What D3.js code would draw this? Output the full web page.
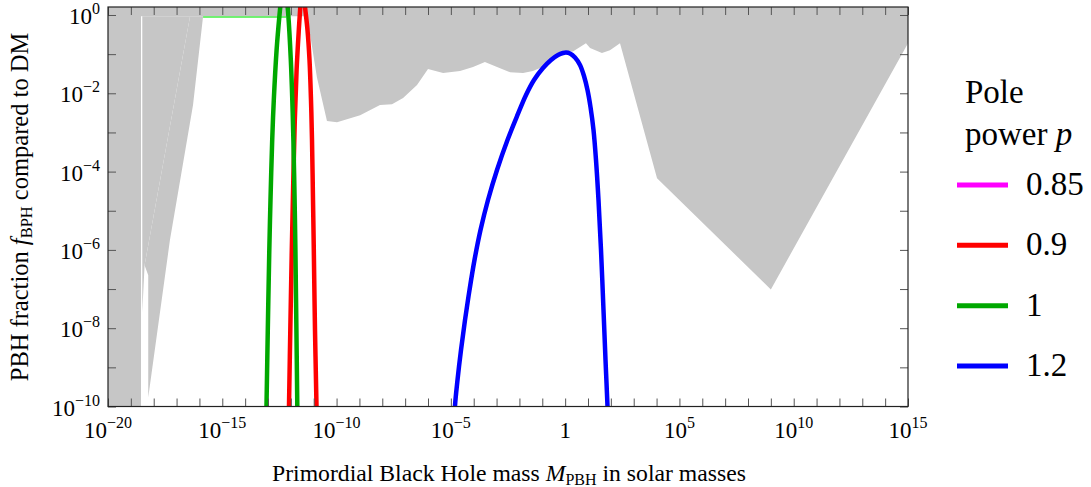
<!DOCTYPE html>
<html>
<head>
<meta charset="utf-8">
<script src="https://cdn.jsdelivr.net/npm/d3@7"></script>
<style>
  body { margin: 0; background: #fff; }
  svg text { font-family: "Liberation Serif", "Times New Roman", serif; }
</style>
</head>
<body>
<div id="chart"></div>
<script>
// Values, as [log10 M, log10 f]

// excluded regions (gray)
const regionTopBand = [[-20, -0.03], [15, -0.03], [15, 0.3], [-20, 0.3]];
const regionLeftA = [[-20, -10.5], [-18.556, -10.5], [-18.556, 0.3], [-20, 0.3]];
const regionLeftB = [[-18.50, -0.03], [-16.41, -0.03], [-18.40, -6.39], [-18.50, -7.60]];
const regionLeftC = [[-18.40, -6.39], [-16.41, -0.03], [-15.84, -0.03], [-16.28, -2.30],
                     [-17.29, -5.75], [-18.24, -9.77], [-18.24, -6.65]];
const regionMain = [[-11.3, -0.03], [-11.12, -0.64], [-10.86, -1.59], [-10.42, -2.71],
  [-9.98, -2.74], [-8.97, -2.56], [-8.10, -2.30], [-7.575, -2.28], [-7.09, -2.12],
  [-6.48, -1.79], [-6.0, -1.38], [-5.34, -1.48], [-4.6, -1.43], [-4.03, -1.33],
  [-3.51, -1.20], [-2.98, -1.33], [-2.41, -1.46], [-1.84, -1.48], [-1.41, -1.43],
  [-0.79, -1.28], [-0.09, -0.92], [0.34, -0.93], [0.91, -0.72], [1.09, -0.84],
  [1.61, -0.97], [1.96, -0.90], [2.40, -0.72], [4.02, -4.17], [9.0, -7.01],
  [15, -0.72], [15, 0.3], [-11.3, 0.3]];
const regions = [regionTopBand, regionLeftA, regionLeftB, regionLeftC, regionMain];

// thin bright green bound near f = 1
const thinBound = [[-15.84, -0.05], [-12.2, -0.05]];

// PBH fraction curves for each pole power
const curveP085 = [];
const curveP09 = [[-12.09, -10.4], [-12.081, -9.987], [-12.024, -8.046], [-11.959, -6.003],
  [-11.893, -4.215], [-11.827, -2.682], [-11.749, -1.405], [-11.652, -0.383],
  [-11.587, 0.204], [-11.512, 0.894], [-11.381, 0.204], [-11.272, -0.383],
  [-11.184, -1.149], [-11.119, -2.171], [-11.075, -3.193], [-11.031, -4.725],
  [-10.996, -6.003], [-10.944, -8.046], [-10.878, -9.987], [-10.87, -10.4]];
const curveP1 = [[-13.08, -10.4], [-13.066, -9.987], [-13.009, -8.046], [-12.943, -6.003],
  [-12.891, -4.725], [-12.816, -3.193], [-12.746, -2.171], [-12.624, -0.894],
  [-12.497, 0.0], [-12.387, 0.639], [-12.30, 1.022], [-12.212, 0.639], [-12.112, 0.0],
  [-12.002, -1.149], [-11.937, -2.171], [-11.889, -3.193], [-11.836, -4.725],
  [-11.801, -6.003], [-11.757, -8.046], [-11.718, -9.987], [-11.71, -10.4]];
const curveP12 = [[-4.84, -10.47], [-4.819, -9.987], [-4.709, -9.323], [-4.556, -8.557],
  [-4.381, -7.791], [-4.184, -7.024], [-3.966, -6.258], [-3.703, -5.492], [-3.375, -4.725],
  [-2.981, -3.959], [-2.522, -3.193], [-2.084, -2.554], [-1.712, -2.043], [-1.362, -1.660],
  [-0.969, -1.354], [-0.619, -1.149], [-0.312, -1.022], [-0.094, -0.971], [0.038, -0.958],
  [0.213, -0.983], [0.431, -1.086], [0.65, -1.277], [0.825, -1.558], [0.978, -1.916],
  [1.109, -2.350], [1.241, -2.937], [1.35, -3.704], [1.459, -4.725], [1.569, -6.003],
  [1.678, -7.535], [1.766, -8.812], [1.853, -9.987], [1.875, -10.47]];

const poleLabels = ["0.85", "0.9", "1", "1.2"];
const poleColors = ["#ff00ff", "#ff0000", "#00a800", "#0000ff"];
const poleCurves = [curveP085, curveP09, curveP1, curveP12];

const xLabelExps = [-20, -15, -10, -5, 0, 5, 10, 15];
const yLabelExps = [-10, -8, -6, -4, -2, 0];

// layout
const W = 1091, H = 487;
const plot = { left: 108, right: 908, top: 7, bottom: 406.5 };

const svg = d3.select("#chart").append("svg")
  .attr("width", W).attr("height", H);

const x = d3.scaleLog().domain([1e-20, 1e15]).range([plot.left, plot.right]);
const y = d3.scaleLog().domain([1e-10, 1.6]).range([plot.bottom, plot.top]);

const px = d => x(Math.pow(10, d[0]));
const py = d => y(Math.pow(10, d[1]));

svg.append("clipPath").attr("id", "clip")
  .append("rect")
  .attr("x", plot.left).attr("y", plot.top)
  .attr("width", plot.right - plot.left).attr("height", plot.bottom - plot.top);

const area = svg.append("g").attr("clip-path", "url(#clip)");

// gray regions
area.selectAll(".region")
  .data(regions)
  .enter().append("path")
  .attr("class", "region")
  .attr("d", d => d3.line().x(px).y(py)(d) + "Z")
  .attr("fill", "#c6c6c6")
  .attr("stroke", "none");

area.append("path")
  .attr("d", d3.line().x(px).y(py)(thinBound))
  .attr("fill", "none")
  .attr("stroke", "#44ee44")
  .attr("stroke-width", 1.5);

// curves
poleCurves.forEach((c, i) => {
  if (!c.length) return;
  area.append("path")
    .attr("d", d3.line().x(px).y(py).curve(d3.curveCatmullRom)(c))
    .attr("fill", "none")
    .attr("stroke", poleColors[i])
    .attr("stroke-width", 4.5)
    .attr("stroke-linejoin", "round");
});

// ticks on all four sides, pointing inward
const xTicks = d3.range(-20, 16).map(e => Math.pow(10, e));
const yTicks = d3.range(-10, 1).map(e => Math.pow(10, e));

function styleAxis(g) {
  g.select(".domain").remove();
  g.selectAll(".tick line").attr("stroke", "#555").attr("stroke-width", 1);
  g.selectAll(".tick text").remove();
}

svg.append("g").attr("transform", `translate(0,${plot.bottom})`)
  .call(d3.axisBottom(x).tickValues(xTicks).tickSize(-8)).call(styleAxis);
svg.append("g").attr("transform", `translate(0,${plot.top})`)
  .call(d3.axisTop(x).tickValues(xTicks).tickSize(-8)).call(styleAxis);
svg.append("g").attr("transform", `translate(${plot.left},0)`)
  .call(d3.axisLeft(y).tickValues(yTicks).tickSize(-8)).call(styleAxis);
svg.append("g").attr("transform", `translate(${plot.right},0)`)
  .call(d3.axisRight(y).tickValues(yTicks).tickSize(-8)).call(styleAxis);

// frame
svg.append("rect")
  .attr("x", plot.left).attr("y", plot.top)
  .attr("width", plot.right - plot.left).attr("height", plot.bottom - plot.top)
  .attr("fill", "none").attr("stroke", "#222").attr("stroke-width", 1.2);

// tick labels with superscripts
function powText(t, e, oneForZero) {
  if (oneForZero && e === 0) { t.text("1"); return; }
  t.append("tspan").text("10");
  t.append("tspan").attr("font-size", 16).attr("dy", -10)
    .text(e < 0 ? "\u2212" + (-e) : String(e));
}

svg.append("g").selectAll("text")
  .data(xLabelExps).enter().append("text")
  .attr("x", e => x(Math.pow(10, e)))
  .attr("y", 438)
  .attr("text-anchor", "middle")
  .attr("font-size", 23)
  .each(function(e) { powText(d3.select(this), e, true); });

svg.append("g").selectAll("text")
  .data(yLabelExps).enter().append("text")
  .attr("x", 100)
  .attr("y", e => y(Math.pow(10, e)) + 9)
  .attr("text-anchor", "end")
  .attr("font-size", 23)
  .each(function(e) { powText(d3.select(this), e, false); });

// axis titles
const xt = svg.append("text")
  .attr("x", 509).attr("y", 481)
  .attr("text-anchor", "middle").attr("font-size", 23.7);
xt.append("tspan").text("Primordial Black Hole mass ");
xt.append("tspan").attr("font-style", "italic").text("M");
xt.append("tspan").attr("font-size", 16).attr("dy", 4).text("PBH");
xt.append("tspan").attr("dy", -4).text(" in solar masses");

const yt = svg.append("text")
  .attr("transform", "translate(28,207) rotate(-90)")
  .attr("text-anchor", "middle").attr("font-size", 24.5);
yt.append("tspan").text("PBH fraction ");
yt.append("tspan").attr("font-style", "italic").text("f");
yt.append("tspan").attr("font-size", 16.5).attr("dy", 4).text("BPH");
yt.append("tspan").attr("dy", -4).text(" compared to DM");

// legend
const legend = svg.append("g");
legend.append("text").attr("x", 965).attr("y", 103).attr("font-size", 33).text("Pole");
const lt = legend.append("text").attr("x", 965).attr("y", 145).attr("font-size", 33);
lt.append("tspan").text("power ");
lt.append("tspan").attr("font-style", "italic").text("p");

const legY = d3.scaleLinear().domain([0, 3]).range([185, 366]);
const items = legend.selectAll(".item")
  .data(poleLabels).enter().append("g").attr("class", "item");
items.append("line")
  .attr("x1", 957).attr("x2", 1008)
  .attr("y1", (d, i) => legY(i)).attr("y2", (d, i) => legY(i))
  .attr("stroke", (d, i) => poleColors[i])
  .attr("stroke-width", 5);
items.append("text")
  .attr("x", 1026).attr("y", (d, i) => legY(i) + 10)
  .attr("font-size", 33)
  .text(d => d);
</script>
</body>
</html>
